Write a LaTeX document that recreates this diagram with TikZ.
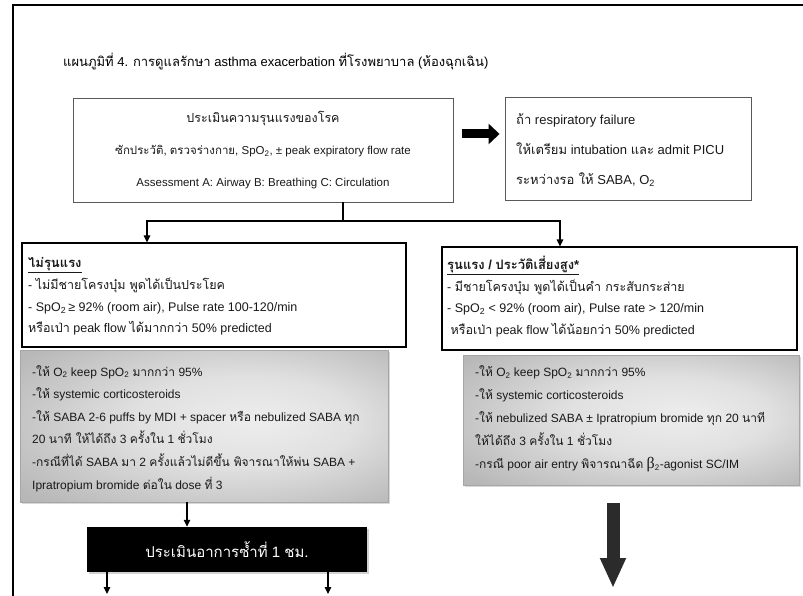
\documentclass[tikz,border=0pt]{standalone}
\usepackage{fontspec}
\setmainfont{Liberation Sans}
\newfontfamily\thaifont[Script=Thai]{Loma}
\newfontfamily\serifb{Liberation Serif}
\newcommand{\thx}[1]{{\thaifont #1}}
\usetikzlibrary{arrows.meta,shadows,calc}
\pgfdeclareradialshading{grayshade}{\pgfpoint{8bp}{2bp}}{color(0bp)=(black!7); color(15bp)=(black!12); color(35bp)=(black!28); color(50bp)=(black!32)}
\tikzset{
  plainbox/.style={draw=black!65, line width=0.9pt, fill=white, inner sep=0pt},
  midbox/.style={draw=black, line width=1.1pt, fill=white, inner sep=0pt},
  graybox/.style={draw=black!35, line width=0.6pt, shading=grayshade, inner sep=0pt,
    drop shadow={shadow xshift=1.5pt, shadow yshift=-1.5pt, fill=black!30}},
  blackbox/.style={fill=black, text=white, inner sep=0pt,
    drop shadow={shadow xshift=1.5pt, shadow yshift=-1.5pt, fill=black!35}},
  txt/.style={align=left, inner sep=0pt, text=black!90, font={\fontsize{12.5}{21.7}\selectfont}},
  linec/.style={draw=black, line width=1.1pt},
  conn/.style={draw=black, line width=1.1pt, -{Triangle[length=7pt,width=6.5pt]}},
  bigright/.style={draw=black, line width=9pt, -{Triangle[length=11pt,width=20pt]}},
  bigdown/.style={draw=black!83, line width=13pt, -{Triangle[length=30pt,width=24pt]}},
  frame/.style={draw=black, line width=2pt}
}
\begin{document}
\begin{tikzpicture}[x=1pt,y=-1pt]
\useasboundingbox (0,0) rectangle (803,596);
% outer frame
\draw[frame] (13,596) -- (13,5) -- (803,5);
% title
\node[anchor=west, inner sep=0pt, text=black, font={\fontsize{13}{15}\selectfont}] (title) at (63,62)
  {\thx{แผนภูมิที่} 4. \thx{การดูแลรักษา} asthma exacerbation \thx{ที่โรงพยาบาล} (\thx{ห้องฉุกเฉิน})};
% top box
\node[plainbox, minimum width=380pt, minimum height=104pt, align=center, text=black!90,
  font={\fontsize{11.5}{32}\selectfont}] (top) at (263,150)
  {{\fontsize{12.5}{32}\selectfont\thx{ประเมินความรุนแรงของโรค}}\\
   \thx{ซักประวัติ}, \thx{ตรวจร่างกาย}, SpO\textsubscript{2}, ± peak expiratory flow rate\\
   Assessment A: Airway B: Breathing C: Circulation};
% respiratory failure box
\node[plainbox, minimum width=246pt, minimum height=103pt] (resp) at (628,148.5) {};
\node[txt, anchor=west, font={\fontsize{13}{30}\selectfont}] (resptxt) at (516,150)
  {\thx{ถ้า} respiratory failure\\
   \thx{ให้เตรียม} intubation \thx{และ} admit PICU\\
   \thx{ระหว่างรอ ให้} SABA, O\textsubscript{2}};
\draw[bigright, shorten <=9pt, shorten >=5pt] ([yshift=16pt]top.east) -- ([yshift=16pt]top.east -| resp.west);
% mid boxes
\node[midbox, minimum width=384pt, minimum height=104pt] (lmid) at (214,295) {};
\node[txt, anchor=west] (lmidtxt) at (28,296.5)
  {\underline{\textbf{\fontsize{13}{21.7}\selectfont\thx{ไม่รุนแรง}}}\\
   - \thx{ไม่มีชายโครงบุ๋ม พูดได้เป็นประโยค}\\
   - SpO\textsubscript{2}\,≥ 92\% (room air), Pulse rate 100-120/min\\
   \thx{หรือเป่า} peak flow \thx{ได้มากกว่า} 50\% predicted};
\node[midbox, minimum width=355pt, minimum height=103pt] (rmid) at (619.5,298.5) {};
\node[txt, anchor=west] (rmidtxt) at (447,296.5)
  {\underline{\textbf{\fontsize{13}{21.7}\selectfont\thx{รุนแรง} / \thx{ประวัติเสี่ยงสูง}*}}\\
   - \thx{มีชายโครงบุ๋ม พูดได้เป็นคำ กระสับกระส่าย}\\
   - SpO\textsubscript{2} < 92\% (room air), Pulse rate > 120/min\\
   \ \thx{หรือเป่า} peak flow \thx{ได้น้อยกว่า} 50\% predicted};
% connectors from top box
\coordinate (split) at (343,221);
\coordinate (jl) at (147,221);
\coordinate (jr) at (560,221);
\draw[linec] (top.south -| split) -- (split);
\draw[conn] (split) -- (jl) -- (jl |- lmid.north);
\draw[conn] (split) -- (jr) -- (jr |- rmid.north);
% gray boxes
\node[graybox, minimum width=368pt, minimum height=152pt] (lgray) at (204,426) {};
\node[txt, anchor=west, font={\fontsize{12}{22.6}\selectfont}] (lgraytxt) at (32,428.5)
  {-\thx{ให้} O\textsubscript{2} keep SpO\textsubscript{2} \thx{มากกว่า} 95\%\\
   -\thx{ให้} systemic corticosteroids\\
   -\thx{ให้} SABA 2-6 puffs by MDI + spacer \thx{หรือ} nebulized SABA \thx{ทุก}\\
   20 \thx{นาที ให้ได้ถึง} 3 \thx{ครั้งใน} 1 \thx{ชั่วโมง}\\
   -\thx{กรณีที่ได้} SABA \thx{มา} 2 \thx{ครั้งแล้วไม่ดีขึ้น พิจารณาให้พ่น} SABA +\\
   Ipratropium bromide \thx{ต่อใน} dose \thx{ที่} 3};
\node[graybox, minimum width=336pt, minimum height=130pt] (rgray) at (631,420) {};
\node[txt, anchor=west, font={\fontsize{12}{23}\selectfont}] (rgraytxt) at (475,419)
  {-\thx{ให้} O\textsubscript{2} keep SpO\textsubscript{2} \thx{มากกว่า} 95\%\\
   -\thx{ให้} systemic corticosteroids\\
   -\thx{ให้} nebulized SABA ± Ipratropium bromide \thx{ทุก} 20 \thx{นาที}\\
   \thx{ให้ได้ถึง} 3 \thx{ครั้งใน} 1 \thx{ชั่วโมง}\\
   -\thx{กรณี} poor air entry \thx{พิจารณาฉีด} {\serifb\fontsize{16}{16}\selectfont β}\textsubscript{2}-agonist SC/IM};
% black box
\node[blackbox, minimum width=280pt, minimum height=45pt, font={\fontsize{15}{17}\selectfont}] (blk) at (227,549.5)
  {\thx{ประเมินอาการซ้ำที่} 1 \thx{ชม.}};
\coordinate (lx) at (187,0);
\draw[conn] (lgray.south -| lx) -- (blk.north -| lx);
\coordinate (outa) at (107,594);
\coordinate (outb) at (328,594);
\draw[conn] (blk.south -| outa) -- (outa);
\draw[conn] (blk.south -| outb) -- (outb);
% big down arrow
\coordinate (bigend) at (613,588);
\draw[bigdown, shorten <=18pt] (rgray.south -| bigend) -- (bigend);
\end{tikzpicture}
\end{document}
